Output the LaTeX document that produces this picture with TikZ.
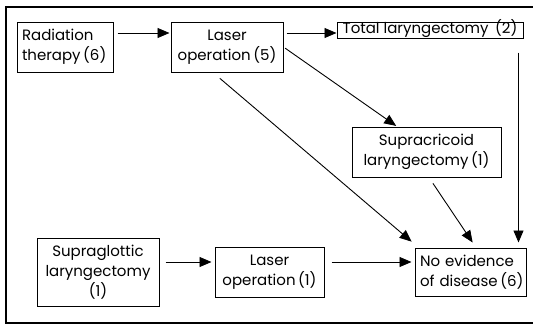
\documentclass[tikz,border=0pt]{standalone}
\usepackage{fontspec}
\setmainfont{Poppins}
\usetikzlibrary{arrows.meta}
\hyphenpenalty=10000
\hbadness=10000
\hfuzz=20pt
\begin{document}
\begin{tikzpicture}[x=1pt,y=-1pt,
  box/.style={draw, line width=1pt, inner sep=0pt, font=\fontsize{15}{20}\selectfont},
  cbox/.style={box, align=center},
  lbox/.style={box, align=left, inner xsep=5pt},
  flow/.style={line width=0.9pt, -{Triangle[length=12pt,width=10pt]}}]
  \useasboundingbox (0,0) rectangle (533,324);
  % outer frame, open on the right
  \draw[line width=1.2pt] (533,7) -- (6,7) -- (6,323) -- (533,323);

  % boxes
  \node[lbox, minimum width=96pt, minimum height=50pt, text width=86pt] (rad) at (65,47) {\mbox{Radiation}\\\mbox{therapy\,(6)}};
  \node[cbox, minimum width=112pt, minimum height=50pt] (las5) at (227,47) {Laser\\operation\,(5)};
  \node[cbox, minimum width=186pt, minimum height=16pt, text height=10pt, text depth=3pt] (tot) at (430,30) {Total laryngectomy \,(2)};
  \node[cbox, minimum width=149pt, minimum height=50pt] (sup) at (426.5,152) {Supracricoid\\laryngectomy\,(1)};
  \node[lbox, minimum width=111pt, minimum height=48pt, text width=101pt] (ned) at (470.5,272) {\mbox{No evidence}\\\mbox{of disease\,(6)}};
  \node[cbox, minimum width=122pt, minimum height=68pt] (sgl) at (98,272) {Supraglottic\\laryngectomy\\(1)};
  \node[cbox, minimum width=109pt, minimum height=50pt] (las1) at (269.5,272) {Laser\\operation\,(1)};

  % connectors
  \coordinate (a1) at ([yshift=14pt]rad.east);
  \coordinate (a2) at ([yshift=14pt]las5.east);
  \coordinate (a3) at ([xshift=-8pt]ned.north east);
  \coordinate (a4) at ([yshift=10pt]sgl.east);
  \coordinate (a5) at ([yshift=10pt]las1.east);

  \draw[flow, shorten <=4pt, shorten >=1pt] (a1) -- (a1 -| las5.west);
  \draw[flow, shorten <=3pt, shorten >=0pt] (a2) -- (a2 -| tot.west);
  \draw[flow, shorten <=2pt, shorten >=1pt] (las5.east) -- ([xshift=-29.5pt]sup.north);
  \draw[flow, shorten <=9pt, shorten >=9pt] ([xshift=-14pt]las5.south) -- ([xshift=4pt]ned.north west);
  \draw[flow, shorten <=7pt, shorten >=6pt] ([xshift=2.5pt]sup.south) -- ([xshift=5.5pt]ned.north);
  \draw[flow, shorten <=14pt, shorten >=5pt] (a3 |- tot.south) -- (a3);
  \draw[flow, shorten <=6pt, shorten >=3pt] (a4) -- (a4 -| las1.west);
  \draw[flow, shorten <=7pt, shorten >=3pt] (a5) -- (a5 -| ned.west);
\end{tikzpicture}
\end{document}
